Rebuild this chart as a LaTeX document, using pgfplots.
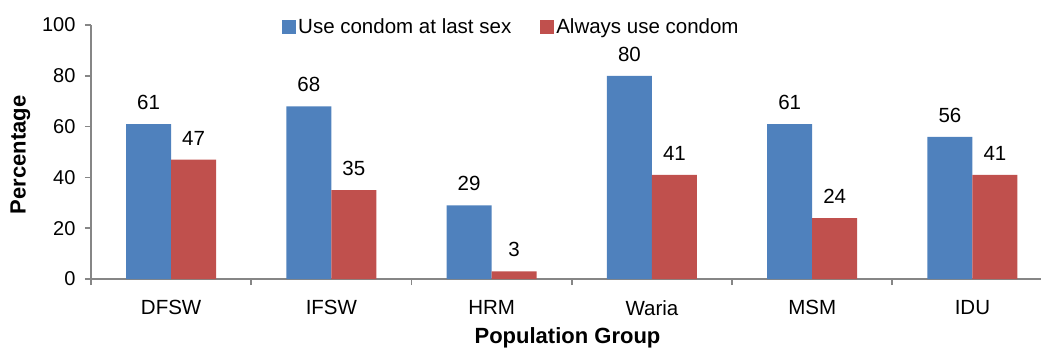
\documentclass[border=0pt]{standalone}
\usepackage{pgfplots}
\pgfplotsset{compat=1.18}
\usepackage{fontspec}
\setmainfont{Liberation Sans}
\definecolor{cblue}{RGB}{79,129,189}
\definecolor{cred}{RGB}{192,80,77}
\definecolor{axgray}{RGB}{134,134,134}
\begin{document}
\begin{tikzpicture}[font=\fontsize{20.5}{24}\selectfont]
\begin{axis}[
  scale only axis, width=950pt, height=254pt,
  xmin=-0.5, xmax=5.428, ymin=0, ymax=100,
  ybar=0pt, bar width=45pt,
  /pgf/number format/assume math mode=true,
  axis x line*=bottom, axis y line*=left,
  axis line style={-, draw=axgray, line width=1.6pt},
  tick align=outside, major tick length=6pt,
  tick style={draw=axgray, line width=1.6pt},
  ytick={0,20,...,100},
  yticklabel style={font=\fontsize{20}{24}\selectfont, black, xshift=-6pt},
  xtick={-0.5,0.5,1.5,2.5,3.5,4.5}, xticklabels={},
  extra x ticks={0,1,2,3,4,5},
  extra x tick labels={DFSW,IFSW,HRM,Waria,MSM,IDU},
  extra x tick style={major tick length=0pt, xticklabel style={yshift=-18pt}},
  xticklabel style={font=\fontsize{20.5}{24}\selectfont, black},
  nodes near coords,
  every node near coord/.append style={font=\fontsize{20.5}{24}\selectfont, black, yshift=11pt},
  legend columns=2,
  legend image code/.code={\fill[#1,draw=none] (0pt,-7pt) rectangle (14pt,7pt);},
  legend style={draw=none, fill=none, at={(0.442,0.992)}, anchor=center,
    font=\fontsize{20.5}{24}\selectfont, nodes={inner sep=1.5pt},
    /tikz/every odd column/.append style={column sep=1pt},
    /tikz/every even column/.append style={column sep=27pt}},
]
\addplot[fill=cblue, draw=none] coordinates {(0,61) (1,68) (2,29) (3,80) (4,61) (5,56)};
\addplot[fill=cred, draw=none] coordinates {(0,47) (1,35) (2,3) (3,41) (4,24) (5,41)};
\legend{Use condom at last sex, Always use condom}
\end{axis}
\node[font=\fontsize{22}{26}\selectfont\bfseries, rotate=90] at (-70.5pt,124pt) {Percentage};
\node[font=\fontsize{22}{26}\selectfont\bfseries, anchor=base] at (476.5pt,-64pt) {Population Group};
\pgfresetboundingbox
\useasboundingbox (-91pt,-70pt) rectangle (950pt,279pt);
\end{tikzpicture}
\end{document}
